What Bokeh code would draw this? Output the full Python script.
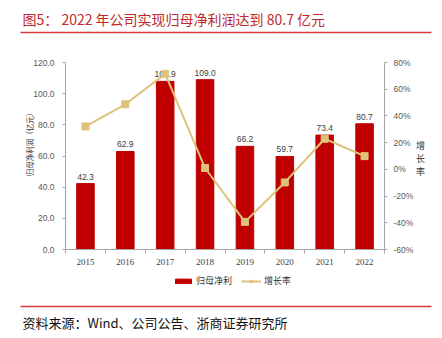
import math
from bokeh.plotting import figure
from bokeh.models import (Range1d, LinearAxis, FixedTicker, SingleIntervalTicker,
                          NumeralTickFormatter, PrintfTickFormatter, Legend, LegendItem,
                          ColumnDataSource, Label, BoxAnnotation)
from bokeh.embed import file_html
from bokeh.resources import INLINE
from bokeh.core.properties import value

years = ["2015", "2016", "2017", "2018", "2019", "2020", "2021", "2022"]
profit = [42.3, 62.9, 107.9, 109.0, 66.2, 59.7, 73.4, 80.7]
growth = [32.1, 48.7, 71.5, 1.0, -39.3, -9.8, 22.9, 9.9]
left_min, left_max, left_step = 0, 120, 20
right_min, right_max, right_step = -60, 80, 20

title_text = "图5：  2022 年公司实现归母净利润达到 80.7 亿元"
source_text = "资料来源：Wind、公司公告、浙商证券研究所"
left_label = "归母净利润（亿元）"
right_label = "增长率"
legend_bar = "归母净利"
legend_line = "增长率"

RED = "#C00000"
GOLD = "#DFC27A"
RULE = "#D93A3A"
CJK = "Noto Sans CJK SC"
GREY = "#A6A6A6"

W, H = 442, 338
# plot-area box (canvas pixels): the whole canvas is the frame, axes are pinned
PL, PR, PT, PB = 65, 384, 62, 249
n = len(years)
xk = (PR - PL) / n
yk = (PB - PT) / (left_max - left_min)
gk = (PB - PT) / (right_max - right_min)

xs = [i + 0.5 for i in range(n)]
src = ColumnDataSource(dict(x=xs, profit=profit, growth=growth,
                            lbl=["%.1f" % v for v in profit]))

p = figure(width=W, height=H,
           x_range=Range1d(-PL / xk, n + (W - PR) / xk),
           y_range=Range1d(left_min - (H - PB) / yk, left_max + PT / yk),
           output_backend="svg", toolbar_location=None, title_location=None, min_border=0)
p.extra_y_ranges = {"g": Range1d(right_min - (H - PB) / gk, right_max + PT / gk)}
p.outline_line_color = None
p.xgrid.visible = False
p.ygrid.visible = False

xa = p.xaxis[0]
xa.fixed_location = left_min
xa.bounds = (0, n)
xa.ticker = FixedTicker(ticks=xs, minor_ticks=list(range(n + 1)))
xa.major_label_overrides = {x: y for x, y in zip(xs, years)}
xa.major_tick_out = 0
xa.major_tick_in = 0
xa.minor_tick_out = 4
xa.minor_tick_in = 0
xa.minor_tick_line_color = GREY
xa.axis_line_color = GREY
xa.major_label_text_font = "Liberation Serif"
xa.major_label_text_font_size = "9px"
xa.major_label_text_color = "#404040"
xa.major_label_standoff = 5

ya = p.yaxis[0]
ya.fixed_location = 0
ya.bounds = (left_min, left_max)
ya.ticker = SingleIntervalTicker(interval=left_step)
ya.formatter = NumeralTickFormatter(format="0.0")
ya.major_tick_out = 3
ya.major_tick_in = 0
ya.minor_tick_line_color = None
ya.axis_line_color = GREY
ya.major_tick_line_color = GREY
ya.major_label_text_font = "Liberation Sans"
ya.major_label_text_font_size = "8.5px"
ya.major_label_text_color = "#595959"
ya.major_label_standoff = 7

ra = LinearAxis(y_range_name="g", fixed_location=n, bounds=(right_min, right_max),
                ticker=SingleIntervalTicker(interval=right_step),
                formatter=PrintfTickFormatter(format="%d%%"))
ra.major_tick_out = 3
ra.major_tick_in = 0
ra.minor_tick_line_color = None
ra.axis_line_color = GREY
ra.major_tick_line_color = GREY
ra.major_label_text_font = "Liberation Sans"
ra.major_label_text_font_size = "8.5px"
ra.major_label_text_color = "#595959"
ra.major_label_standoff = 5
p.add_layout(ra, "right")

bars = p.vbar(x="x", top="profit", width=0.44, source=src, fill_color=RED, line_color=RED)
p.text(x="x", y="profit", text="lbl", source=src, y_offset=-4, text_align="center",
       text_baseline="bottom", text_font=value("Liberation Sans"), text_font_size="8.5px",
       text_color="#404040")
ln = p.line(x="x", y="growth", source=src, y_range_name="g", line_color=GOLD, line_width=2)
mk = p.scatter(x="x", y="growth", source=src, y_range_name="g", marker="square", size=7,
               fill_color=GOLD, line_color=GOLD)

legend = Legend(items=[LegendItem(label=legend_bar, renderers=[bars]),
                       LegendItem(label=legend_line, renderers=[ln, mk])],
                orientation="horizontal", location=(173, H - 287),
                border_line_color=None, background_fill_alpha=0,
                label_text_font=CJK, label_text_font_size="9px", label_text_color="#333333",
                glyph_width=20, glyph_height=6, label_height=12, label_standoff=3,
                spacing=9, padding=0, margin=0)
p.add_layout(legend, "center")

# left axis title (rotated)
p.add_layout(Label(x=28.5, y=H - 142, x_units="screen", y_units="screen",
                   text=left_label, angle=math.pi / 2, text_font=CJK, text_font_size="7.5px",
                   text_color="#333333", text_align="center", text_baseline="middle"))
# right axis title, upright characters stacked
p.add_layout(Label(x=420, y=H - 158, x_units="screen", y_units="screen",
                   text="\n".join(right_label), text_font=CJK, text_font_size="9px",
                   text_color="#333333", text_align="center", text_baseline="middle",
                   text_line_height=1.0))
# header
p.add_layout(Label(x=22, y=H - 18, x_units="screen", y_units="screen",
                   text=title_text, text_font=CJK, text_font_size="14px",
                   text_color="#C0282D", text_baseline="middle"))
# footer
p.add_layout(Label(x=22, y=H - 322, x_units="screen", y_units="screen",
                   text=source_text, text_font=CJK, text_font_size="13px",
                   text_color="#111111", text_baseline="middle"))
for yy in (32, 306):
    p.add_layout(BoxAnnotation(left=20, right=431, top=H - yy + 0.75, bottom=H - yy - 0.75,
                               left_units="screen", right_units="screen",
                               top_units="screen", bottom_units="screen",
                               fill_color=RULE, fill_alpha=1, line_color=None))

open("out.html", "w").write(file_html(p, INLINE))
